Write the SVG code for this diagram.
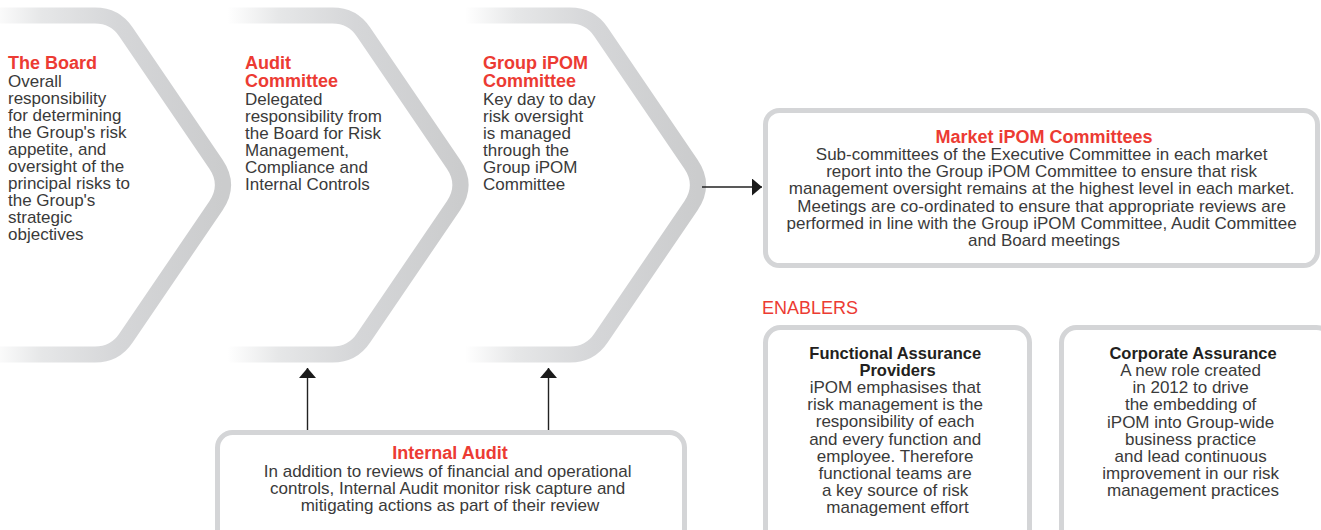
<svg xmlns="http://www.w3.org/2000/svg" width="1321" height="530" viewBox="0 0 1321 530">
<style>
  text { font-family: "Liberation Sans", Arial, sans-serif; }
  .t { font-size: 18px; font-weight: bold; fill: #ec3b33; }
  .b { font-size: 17px; fill: #3a3a3a; }
  .et { font-size: 16.5px; font-weight: bold; fill: #231f20; }
  .c { text-anchor: middle; }
  .chev { fill: none; stroke-width: 16; stroke-linejoin: round; }
  .box { fill: #ffffff; stroke: #d4d5d7; stroke-width: 5; }
  .conn { stroke: #222222; stroke-width: 1.4; fill: none; }
</style>
<defs>
  <linearGradient id="g" x1="0" y1="0" x2="1" y2="0">
    <stop offset="0" stop-color="#ffffff"/>
    <stop offset="0.22" stop-color="#e6e7e8"/>
    <stop offset="0.55" stop-color="#d5d6d8"/>
    <stop offset="1" stop-color="#cbcccd"/>
  </linearGradient>
  <marker id="ah" markerUnits="userSpaceOnUse" markerWidth="10" markerHeight="17" refX="10" refY="8.5" orient="auto">
    <path d="M0,0 L10,8.5 L0,17 Z" fill="#1a1a1a"/>
  </marker>
</defs>

<g id="board">
  <path class="chev" stroke="url(#g)" d="M-10,15.5 H95 Q115,15.5 126,32 L216,164.3 Q230,185 216,205.7 L126,338 Q115,354.5 95,354.5 H-10"/>
  <text class="t" x="8" y="68.5">The Board</text>
  <text class="b">
    <tspan x="8" y="86.5">Overall</tspan>
    <tspan x="8" y="103.6">responsibility</tspan>
    <tspan x="8" y="120.7">for determining</tspan>
    <tspan x="8" y="137.8">the Group's risk</tspan>
    <tspan x="8" y="154.9">appetite, and</tspan>
    <tspan x="8" y="172">oversight of the</tspan>
    <tspan x="8" y="189.1">principal risks to</tspan>
    <tspan x="8" y="206.2">the Group's</tspan>
    <tspan x="8" y="223.3">strategic</tspan>
    <tspan x="8" y="240.4">objectives</tspan>
  </text>
</g>

<g id="audit-committee">
  <path class="chev" stroke="url(#g)" d="M227.5,15.5 H332.5 Q352.5,15.5 363.5,32 L453.5,164.3 Q467.5,185 453.5,205.7 L363.5,338 Q352.5,354.5 332.5,354.5 H227.5"/>
  <text class="t">
    <tspan x="245" y="68.5">Audit</tspan>
    <tspan x="245" y="86.5">Committee</tspan>
  </text>
  <text class="b">
    <tspan x="245" y="104.5">Delegated</tspan>
    <tspan x="245" y="121.6">responsibility from</tspan>
    <tspan x="245" y="138.7">the Board for Risk</tspan>
    <tspan x="245" y="155.8">Management,</tspan>
    <tspan x="245" y="172.9">Compliance and</tspan>
    <tspan x="245" y="190">Internal Controls</tspan>
  </text>
</g>

<g id="group-ipom">
  <path class="chev" stroke="url(#g)" d="M465,15.5 H570 Q590,15.5 601,32 L691,164.3 Q705,185 691,205.7 L601,338 Q590,354.5 570,354.5 H465"/>
  <text class="t">
    <tspan x="483" y="68.5">Group iPOM</tspan>
    <tspan x="483" y="86.5">Committee</tspan>
  </text>
  <text class="b">
    <tspan x="483" y="104.5">Key day to day</tspan>
    <tspan x="483" y="121.6">risk oversight</tspan>
    <tspan x="483" y="138.7">is managed</tspan>
    <tspan x="483" y="155.8">through the</tspan>
    <tspan x="483" y="172.9">Group iPOM</tspan>
    <tspan x="483" y="190">Committee</tspan>
  </text>
</g>

<g id="market-ipom">
  <rect class="box" x="765.5" y="110.5" width="552" height="155" rx="14"/>
  <text class="t c" x="1044" y="142.5">Market iPOM Committees</text>
  <text class="b c">
    <tspan x="1044" y="160">Sub-committees of the Executive Committee in each market</tspan>
    <tspan x="1044" y="177.2">report into the Group iPOM Committee to ensure that risk</tspan>
    <tspan x="1044" y="194.4">management oversight remains at the highest level in each market.</tspan>
    <tspan x="1044" y="211.6">Meetings are co-ordinated to ensure that appropriate reviews are</tspan>
    <tspan x="1044" y="228.8">performed in line with the Group iPOM Committee, Audit Committee</tspan>
    <tspan x="1044" y="246">and Board meetings</tspan>
  </text>
</g>

<g id="internal-audit">
  <rect class="box" x="217.5" y="432.5" width="467" height="130" rx="15"/>
  <text class="t c" x="450" y="458.5">Internal Audit</text>
  <text class="b c">
    <tspan x="450" y="476.5">In addition to reviews of financial and operational</tspan>
    <tspan x="450" y="493.5">controls, Internal Audit monitor risk capture and</tspan>
    <tspan x="450" y="510.5">mitigating actions as part of their review</tspan>
  </text>
</g>

<g id="enablers-heading">
  <text x="762" y="314" font-size="19" fill="#ec3b33" textLength="96" lengthAdjust="spacingAndGlyphs">ENABLERS</text>
</g>

<g id="functional-assurance">
  <rect class="box" x="765.5" y="327.5" width="264" height="230" rx="15"/>
  <text class="et c">
    <tspan x="897.5" y="359">Functional Assurance</tspan>
    <tspan x="897.5" y="376">Providers</tspan>
  </text>
  <text class="b c">
    <tspan x="897.5" y="393">iPOM emphasises that</tspan>
    <tspan x="897.5" y="410.2">risk management is the</tspan>
    <tspan x="897.5" y="427.4">responsibility of each</tspan>
    <tspan x="897.5" y="444.6">and every function and</tspan>
    <tspan x="897.5" y="461.8">employee. Therefore</tspan>
    <tspan x="897.5" y="479">functional teams are</tspan>
    <tspan x="897.5" y="496.2">a key source of risk</tspan>
    <tspan x="897.5" y="513.4">management effort</tspan>
  </text>
</g>

<g id="corporate-assurance">
  <rect class="box" x="1061.5" y="327.5" width="270" height="230" rx="15"/>
  <text class="et c" x="1193" y="359">Corporate Assurance</text>
  <text class="b c">
    <tspan x="1193" y="376">A new role created</tspan>
    <tspan x="1193" y="393.2">in 2012 to drive</tspan>
    <tspan x="1193" y="410.4">the embedding of</tspan>
    <tspan x="1193" y="427.6">iPOM into Group-wide</tspan>
    <tspan x="1193" y="444.8">business practice</tspan>
    <tspan x="1193" y="462">and lead continuous</tspan>
    <tspan x="1193" y="479.2">improvement in our risk</tspan>
    <tspan x="1193" y="496.4">management practices</tspan>
  </text>
</g>

<g id="connectors">
  <line class="conn" x1="702" y1="187" x2="762" y2="187" marker-end="url(#ah)"/>
  <line class="conn" x1="307.5" y1="430" x2="307.5" y2="368" marker-end="url(#ah)"/>
  <line class="conn" x1="548.5" y1="430" x2="548.5" y2="368" marker-end="url(#ah)"/>
</g>
</svg>
